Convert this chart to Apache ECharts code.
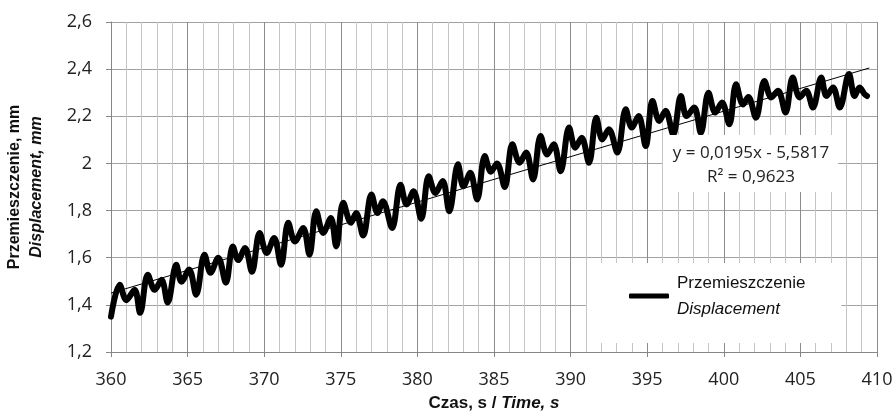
<!DOCTYPE html>
<html>
<head>
<meta charset="utf-8">
<script src="https://cdn.jsdelivr.net/npm/echarts@6/dist/echarts.min.js"></script>
<style>
  html, body { margin: 0; padding: 0; background: #fff; }
  #chart { width: 892px; height: 411px; }
</style>
</head>
<body>
<div id="chart"></div>
<script>
// Time (s)
const times = [
  360.00, 360.57, 361.00, 361.54, 361.90, 362.40, 362.85, 363.30, 363.70, 364.26,
  364.60, 365.10, 365.56, 366.10, 366.50, 367.00, 367.50, 367.95, 368.30, 368.75,
  369.20, 369.70, 370.16, 370.65, 371.10, 371.57, 372.00, 372.55, 372.95, 373.40,
  373.85, 374.35, 374.70, 375.16, 375.66, 376.00, 376.46, 377.00, 377.40, 377.75,
  378.35, 378.90, 379.30, 379.75, 380.25, 380.74, 381.17, 381.65, 382.08, 382.65,
  383.00, 383.45, 383.90, 384.40, 384.80, 385.20, 385.70, 386.20, 386.67, 387.10,
  387.55, 388.04, 388.47, 388.90, 389.35, 389.90, 390.30, 390.72, 391.20, 391.68,
  392.07, 392.50, 393.05, 393.60, 393.99, 394.44, 394.90, 395.35, 395.79, 396.20,
  396.70, 397.20, 397.57, 398.07, 398.50, 399.00, 399.44, 399.88, 400.36, 400.80,
  401.25, 401.60, 402.10, 402.65, 403.10, 403.54, 404.03, 404.50, 404.95, 405.38,
  405.82, 406.36, 406.70, 407.13, 407.57, 408.17, 408.54, 408.86, 409.19, 409.35
];
// Displacement (mm)
const displacement = [
  1.350, 1.485, 1.420, 1.464, 1.366, 1.528, 1.464, 1.506, 1.410, 1.570,
  1.498, 1.550, 1.443, 1.613, 1.536, 1.600, 1.494, 1.648, 1.590, 1.641,
  1.540, 1.705, 1.620, 1.684, 1.570, 1.748, 1.669, 1.726, 1.613, 1.797,
  1.705, 1.769, 1.648, 1.833, 1.748, 1.790, 1.694, 1.868, 1.790, 1.840,
  1.726, 1.910, 1.826, 1.882, 1.765, 1.946, 1.875, 1.925, 1.797, 1.996,
  1.903, 1.960, 1.847, 2.031, 1.965, 2.000, 1.900, 2.081, 2.003, 2.046,
  1.932, 2.116, 2.038, 2.081, 1.967, 2.152, 2.067, 2.109, 2.003, 2.194,
  2.102, 2.145, 2.046, 2.230, 2.152, 2.201, 2.074, 2.265, 2.180, 2.223,
  2.123, 2.286, 2.201, 2.237, 2.130, 2.300, 2.216, 2.258, 2.166, 2.336,
  2.250, 2.282, 2.194, 2.350, 2.280, 2.308, 2.216, 2.365, 2.280, 2.308,
  2.237, 2.365, 2.286, 2.322, 2.237, 2.379, 2.286, 2.322, 2.294, 2.286
];
// Linear trendline end points (as drawn)
const trendTimes = [360, 409.5];
const trendValues = [1.450, 2.405];

const xTicks = [360, 365, 370, 375, 380, 385, 390, 395, 400, 405, 410];
const yTickLabels = ['1,2', '1,4', '1,6', '1,8', '2', '2,2', '2,4', '2,6'];

const seriesName = 'Przemieszczenie';
const seriesNameEn = 'Displacement';
const yTitle = 'Przemieszczenie, mm';
const yTitleEn = 'Displacement, mm';
const xTitle = 'Czas, s / ';
const xTitleEn = 'Time, s';
const equationLines = ['y = 0,0195x - 5,5817', 'R² = 0,9623'];

const mainData = times.map((t, i) => [t, displacement[i]]);
const trendData = trendTimes.map((t, i) => [t, trendValues[i]]);

const tickFont = '"Open Sans", "DejaVu Sans", sans-serif';
const titleFont = '"Liberation Sans", Arial, sans-serif';
const yMin = 1.2;

const chart = echarts.init(document.getElementById('chart'), null, { renderer: 'canvas' });
chart.setOption({
  animation: false,
  backgroundColor: '#fff',
  grid: { left: 111, right: 15, top: 22, bottom: 59, containLabel: false, outerBoundsMode: 'none' },
  xAxis: {
    type: 'value',
    min: xTicks[0],
    max: xTicks[xTicks.length - 1],
    interval: 5,
    axisLine: { show: true, lineStyle: { color: '#868686', width: 1 } },
    axisTick: { show: true, length: 5, lineStyle: { color: '#868686' } },
    axisLabel: { fontFamily: tickFont, fontSize: 18, color: '#222', margin: 19 },
    splitLine: { show: true, lineStyle: { color: '#8c8c8c', width: 1 } },
    minorTick: { show: false, splitNumber: 5 },
    minorSplitLine: { show: true, lineStyle: { color: '#c6c6c6', width: 1 } },
    name: xTitle + '{i|' + xTitleEn + '}',
    nameLocation: 'middle',
    nameGap: 43,
    nameTextStyle: {
      fontFamily: titleFont, fontSize: 17, fontWeight: 'bold', color: '#111',
      rich: { i: { fontFamily: titleFont, fontSize: 17, fontWeight: 'bold', fontStyle: 'italic', color: '#111' } }
    }
  },
  yAxis: {
    type: 'value',
    min: yMin,
    max: 2.6,
    interval: 0.2,
    axisLine: { show: true, lineStyle: { color: '#868686', width: 1 } },
    axisTick: { show: true, length: 5, lineStyle: { color: '#868686' } },
    axisLabel: {
      fontFamily: tickFont, fontSize: 18, color: '#222', margin: 19,
      formatter: function (v) {
        const idx = Math.round((v - yMin) / 0.2);
        return yTickLabels[idx] !== undefined ? yTickLabels[idx] : '';
      }
    },
    splitLine: { show: true, lineStyle: { color: '#a2a2a2', width: 1 } },
    name: '{a|' + yTitle + '}\n{b|' + yTitleEn + '}',
    nameLocation: 'middle',
    nameRotate: 90,
    nameGap: 63,
    nameTextStyle: {
      rich: {
        a: { fontFamily: titleFont, fontSize: 16, fontWeight: 'bold', color: '#111', lineHeight: 22 },
        b: { fontFamily: titleFont, fontSize: 16, fontWeight: 'bold', fontStyle: 'italic', color: '#111', lineHeight: 22 }
      }
    }
  },
  legend: {
    data: [seriesName],
    left: 587,
    top: 263,
    padding: [7, 36, 21, 42],
    backgroundColor: '#fff',
    icon: 'roundRect',
    itemWidth: 40,
    itemHeight: 5,
    itemGap: 0,
    formatter: function (name) { return name + '\n{i|' + seriesNameEn + '}'; },
    textStyle: {
      fontFamily: titleFont, fontSize: 17, color: '#111', lineHeight: 26, padding: [0, 0, 0, 3],
      rich: { i: { fontFamily: titleFont, fontSize: 17, fontStyle: 'italic', color: '#111', lineHeight: 26 } }
    },
    selectedMode: false
  },
  graphic: [
    { type: 'rect', z: 100, shape: { x: 663, y: 135, width: 175, height: 57 }, style: { fill: '#fff' } },
    { type: 'text', z: 101, style: { x: 751, y: 153, text: equationLines[0], textAlign: 'center', textVerticalAlign: 'middle', font: '17px ' + tickFont, fill: '#222' } },
    { type: 'text', z: 101, style: { x: 751, y: 177, text: equationLines[1], textAlign: 'center', textVerticalAlign: 'middle', font: '17px ' + tickFont, fill: '#222' } }
  ],
  series: [
    {
      name: seriesName,
      type: 'line',
      data: mainData,
      showSymbol: false,
      smooth: 0.35,
      lineStyle: { color: '#000', width: 6, cap: 'round', join: 'round' },
      itemStyle: { color: '#000' },
      z: 3
    },
    {
      name: 'trend',
      type: 'line',
      data: trendData,
      showSymbol: false,
      silent: true,
      lineStyle: { color: '#000', width: 1 },
      itemStyle: { color: '#000' },
      z: 4
    }
  ]
});
</script>
</body>
</html>
